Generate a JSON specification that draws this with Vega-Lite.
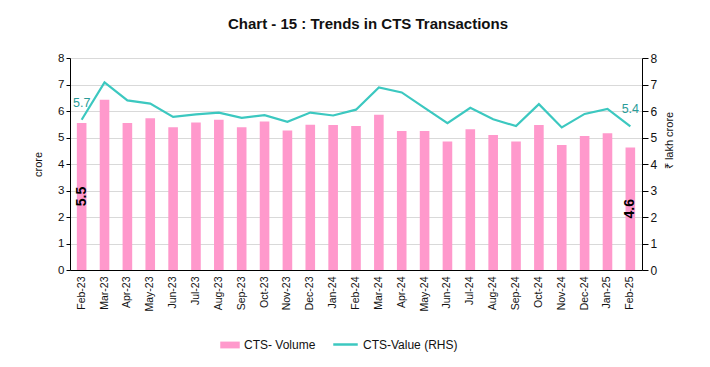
{
  "$schema": "https://vega.github.io/schema/vega-lite/v6.json",
  "width": 572,
  "height": 212,
  "autosize": {"type": "none"},
  "padding": {"left": 70, "top": 58, "right": 68, "bottom": 97},
  "background": "white",
  "title": {"text": "Chart - 15 : Trends in CTS Transactions", "font": "Liberation Sans", "fontSize": 15, "fontWeight": "bold", "color": "#111111", "anchor": "middle", "dx": 12, "offset": 20},
  "config": {
    "font": "Liberation Sans",
    "view": {"stroke": null},
    "axis": {"labelFont": "Liberation Sans", "titleFont": "Liberation Sans", "labelColor": "#111111", "titleColor": "#111111", "domainColor": "#000000", "tickColor": "#000000", "gridColor": "#d9d9d9"}
  },
  "data": {"values": [
    {"month": "Feb-23", "volume": 5.55, "value": 5.67},
    {"month": "Mar-23", "volume": 6.42, "value": 7.08},
    {"month": "Apr-23", "volume": 5.55, "value": 6.40},
    {"month": "May-23", "volume": 5.73, "value": 6.28},
    {"month": "Jun-23", "volume": 5.39, "value": 5.78},
    {"month": "Jul-23", "volume": 5.57, "value": 5.87},
    {"month": "Aug-23", "volume": 5.67, "value": 5.94},
    {"month": "Sep-23", "volume": 5.39, "value": 5.74},
    {"month": "Oct-23", "volume": 5.60, "value": 5.84},
    {"month": "Nov-23", "volume": 5.26, "value": 5.59},
    {"month": "Dec-23", "volume": 5.48, "value": 5.94},
    {"month": "Jan-24", "volume": 5.47, "value": 5.83},
    {"month": "Feb-24", "volume": 5.43, "value": 6.05},
    {"month": "Mar-24", "volume": 5.86, "value": 6.89},
    {"month": "Apr-24", "volume": 5.25, "value": 6.70},
    {"month": "May-24", "volume": 5.25, "value": 6.12},
    {"month": "Jun-24", "volume": 4.85, "value": 5.54},
    {"month": "Jul-24", "volume": 5.31, "value": 6.12},
    {"month": "Aug-24", "volume": 5.09, "value": 5.69},
    {"month": "Sep-24", "volume": 4.85, "value": 5.43},
    {"month": "Oct-24", "volume": 5.47, "value": 6.26},
    {"month": "Nov-24", "volume": 4.72, "value": 5.38},
    {"month": "Dec-24", "volume": 5.06, "value": 5.89},
    {"month": "Jan-25", "volume": 5.16, "value": 6.08},
    {"month": "Feb-25", "volume": 4.62, "value": 5.42}
  ]},
  "encoding": {
    "x": {"field": "month", "type": "ordinal", "sort": null,
      "scale": {"paddingInner": 0.58, "paddingOuter": 0.3},
      "axis": {"title": null, "labelAngle": -90, "labelFontSize": 10.5, "ticks": false, "labelPadding": 6, "domainColor": "#000000"}}
  },
  "layer": [
    {
      "mark": {"type": "bar"},
      "encoding": {
        "y": {"field": "volume", "type": "quantitative", "scale": {"domain": [0, 8]},
          "axis": {"orient": "left", "title": "crore", "titleFontSize": 11, "titleFontWeight": "normal", "titlePadding": 14, "labelFontSize": 11.5, "tickCount": 8, "grid": true, "tickSize": 4}},
        "fill": {"datum": "CTS- Volume", "type": "nominal",
          "scale": {"domain": ["CTS- Volume"], "range": ["#ff99cc"]},
          "legend": {"title": null, "orient": "none", "legendX": 150, "legendY": 277, "symbolType": "M-1,-0.35H1V0.35H-1Z", "symbolSize": 380, "labelFontSize": 12, "labelColor": "#111111", "symbolStrokeWidth": 0}}
      }
    },
    {
      "mark": {"type": "line", "strokeWidth": 2.2},
      "encoding": {
        "y": {"field": "value", "type": "quantitative", "scale": {"domain": [0, 8]},
          "axis": {"orient": "right", "title": "₹ lakh crore", "titleAngle": 270, "titleY": 82, "titleFontSize": 11, "titleFontWeight": "normal", "titlePadding": 18, "labelFontSize": 12, "tickCount": 8, "grid": false, "tickSize": 6}},
        "stroke": {"datum": "CTS-Value (RHS)", "type": "nominal",
          "scale": {"domain": ["CTS-Value (RHS)"], "range": ["#3cc8c0"]},
          "legend": {"title": null, "orient": "none", "legendX": 262, "legendY": 273, "symbolType": "stroke", "symbolSize": 600, "symbolStrokeWidth": 2.5, "labelFontSize": 12, "labelColor": "#111111"}}
      }
    },
    {
      "transform": [{"filter": "datum.month == 'Feb-23' || datum.month == 'Feb-25'"}],
      "mark": {"type": "text", "color": "#2a9c98", "fontSize": 12.5, "dy": -17, "dx": 0},
      "encoding": {
        "y": {"field": "value", "type": "quantitative", "scale": {"domain": [0, 8]}, "axis": null},
        "text": {"field": "value", "type": "quantitative", "format": ".1f"}
      }
    },
    {
      "transform": [{"filter": "datum.month == 'Feb-23' || datum.month == 'Feb-25'"}, {"calculate": "datum.volume / 2", "as": "mid"}],
      "mark": {"type": "text", "color": "#000000", "fontSize": 14, "fontWeight": "bold", "angle": 270},
      "encoding": {
        "y": {"field": "mid", "type": "quantitative", "scale": {"domain": [0, 8]}, "axis": null},
        "text": {"field": "volume", "type": "quantitative", "format": ".1f"}
      }
    }
  ],
  "resolve": {"scale": {"y": "independent"}}
}
